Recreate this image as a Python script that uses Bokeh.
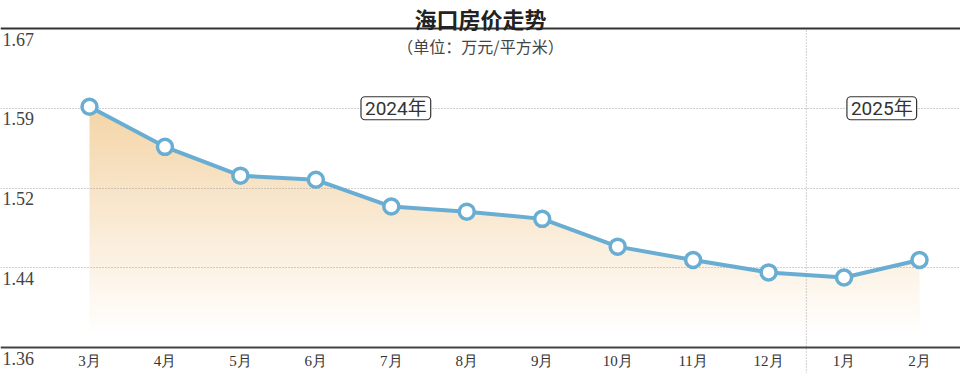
import numpy as np
from bokeh.plotting import figure
from bokeh.models import Range1d, FixedTicker, Span, Label, LabelSet, ColumnDataSource
from bokeh.embed import file_html
from bokeh.resources import INLINE

# ---------------- data ----------------
months = ["3月", "4月", "5月", "6月", "7月", "8月", "9月", "10月", "11月", "12月", "1月", "2月"]
prices = [1.594, 1.555, 1.527, 1.523, 1.497, 1.492, 1.485, 1.458, 1.445, 1.433, 1.428, 1.445]
y_ticks = [1.36, 1.4375, 1.515, 1.5925, 1.67]
y_tick_labels = ["1.36", "1.44", "1.52", "1.59", "1.67"]
year_labels = ["2024年", "2025年"]
year_label_x = [4.06, 10.5]
divider_x = 9.5
title_text = "海口房价走势"
unit_text = "（单位：万元/平方米）"

# ---------------- layout ----------------
W, H = 960, 373
X0_PX = 89.0
STEP = (919.0 - 89.0) / 11.0
x_start = -X0_PX / STEP
x_end = (W - X0_PX) / STEP
TOP_PX = 28.0      # px of top tick from figure top
BOT_PX = 347.0     # px of bottom tick from figure top
y_lo = y_ticks[0]
y_top_tick = y_ticks[-1]
per_px = (y_top_tick - y_lo) / (BOT_PX - TOP_PX)
y_end = y_top_tick + TOP_PX * per_px
y_start = y_lo - (H - BOT_PX) * per_px


def px_x(fx):
    return (fx - X0_PX) / STEP


def px_y(fy):
    return y_end - fy * per_px


idx = list(range(len(months)))

p = figure(width=W, height=H, output_backend="svg", toolbar_location=None,
           x_range=Range1d(x_start, x_end), y_range=Range1d(y_start, y_end),
           x_axis_location=None, y_axis_location=None,
           min_border_left=0, min_border_right=0,
           min_border_top=0, min_border_bottom=0)
p.outline_line_color = None
p.background_fill_color = "white"
p.border_fill_color = "white"

# gradient fill under the line
GRAD_TOP = 1.60
GRAD_BOTTOM = 1.372
n_rows = 240
t = np.linspace(0.0, 1.0, n_rows)
alpha = 0.95 * t
base = np.array([243, 209, 160], dtype=float)
rgb = 255.0 - alpha[:, None] * (255.0 - base[None, :])
img = np.zeros((n_rows, 1, 4), dtype=np.uint8)
img[:, 0, :3] = np.clip(np.round(rgb), 0, 255).astype(np.uint8)
img[:, 0, 3] = 255
img32 = img.view(dtype=np.uint32).reshape((n_rows, 1))
p.image_rgba(image=[img32], x=idx[0], y=GRAD_BOTTOM, dw=idx[-1] - idx[0],
             dh=GRAD_TOP - GRAD_BOTTOM, level="image")
# white mask above the line (slightly wider than the fill to hide edge seams)
pad = 2.0 / STEP
mask_x = [idx[0] - pad] + idx + [idx[-1] + pad]
mask_y = [prices[0]] + prices + [prices[-1]]
p.varea(x=mask_x, y1=mask_y, y2=[GRAD_TOP + 0.002] * len(mask_x),
        fill_color="white", level="image")

# grid
p.xgrid.visible = False
p.ygrid.ticker = FixedTicker(ticks=y_ticks[1:-1])
p.ygrid.grid_line_color = "#a0a0a0"
p.ygrid.grid_line_dash = "1 2"
p.ygrid.grid_line_width = 1

# divider between years
p.segment(x0=[divider_x], y0=[y_start], x1=[divider_x], y1=[y_top_tick],
          line_color="#a0a0a0", line_dash="1 2", line_width=1, level="underlay")

# top rule and baseline
p.add_layout(Span(location=y_top_tick, dimension="width", line_color="#333333",
                  line_width=2))
p.add_layout(Span(location=y_lo, dimension="width", line_color="#444444",
                  line_width=2))

# line and markers
line_color = "#69aed2"
p.line(idx, prices, line_color=line_color, line_width=4)
p.scatter(idx, prices, size=15, fill_color="white", line_color=line_color,
          line_width=3.5)

# month labels along the baseline
msrc = ColumnDataSource(dict(x=idx, y=[y_lo] * len(idx), text=months))
p.add_layout(LabelSet(x="x", y="y", text="text", source=msrc,
                      y_offset=-5, text_baseline="top", text_align="center",
                      text_font="Noto Sans CJK SC", text_font_size="15px",
                      text_color="#333333"))

# y tick labels below the grid lines
ysrc = ColumnDataSource(dict(y=y_ticks, text=y_tick_labels,
                             x=[2] * len(y_ticks)))
p.add_layout(LabelSet(x="x", y="y", text="text", source=ysrc, x_units="screen",
                      y_units="data", y_offset=-4, text_baseline="top",
                      text_align="left", text_font="Roboto",
                      text_font_size="18px", text_color="#444444"))

# year labels
for xx, tt in zip(year_label_x, year_labels):
    p.add_layout(Label(x=xx, y=y_ticks[3], text=tt, text_align="center",
                       text_baseline="middle",
                       text_font="Roboto, 'Noto Sans CJK SC'",
                       text_font_size="19px", text_color="#333333",
                       background_fill_color="white", border_line_color="#333333",
                       border_line_width=1.2, border_radius=4, padding=(4, 0)))

# title and unit
p.add_layout(Label(x=px_x(480), y=px_y(17), text=title_text, text_align="center",
                   text_baseline="middle", text_font="Noto Sans CJK SC",
                   text_font_size="22px", text_font_style="bold",
                   text_color="#222222"))
p.add_layout(Label(x=px_x(480), y=px_y(45), text=unit_text, text_align="center",
                   text_baseline="middle", text_font="Noto Sans CJK SC",
                   text_font_size="16px", text_color="#444444"))

open("out.html", "w").write(file_html(p, INLINE))
